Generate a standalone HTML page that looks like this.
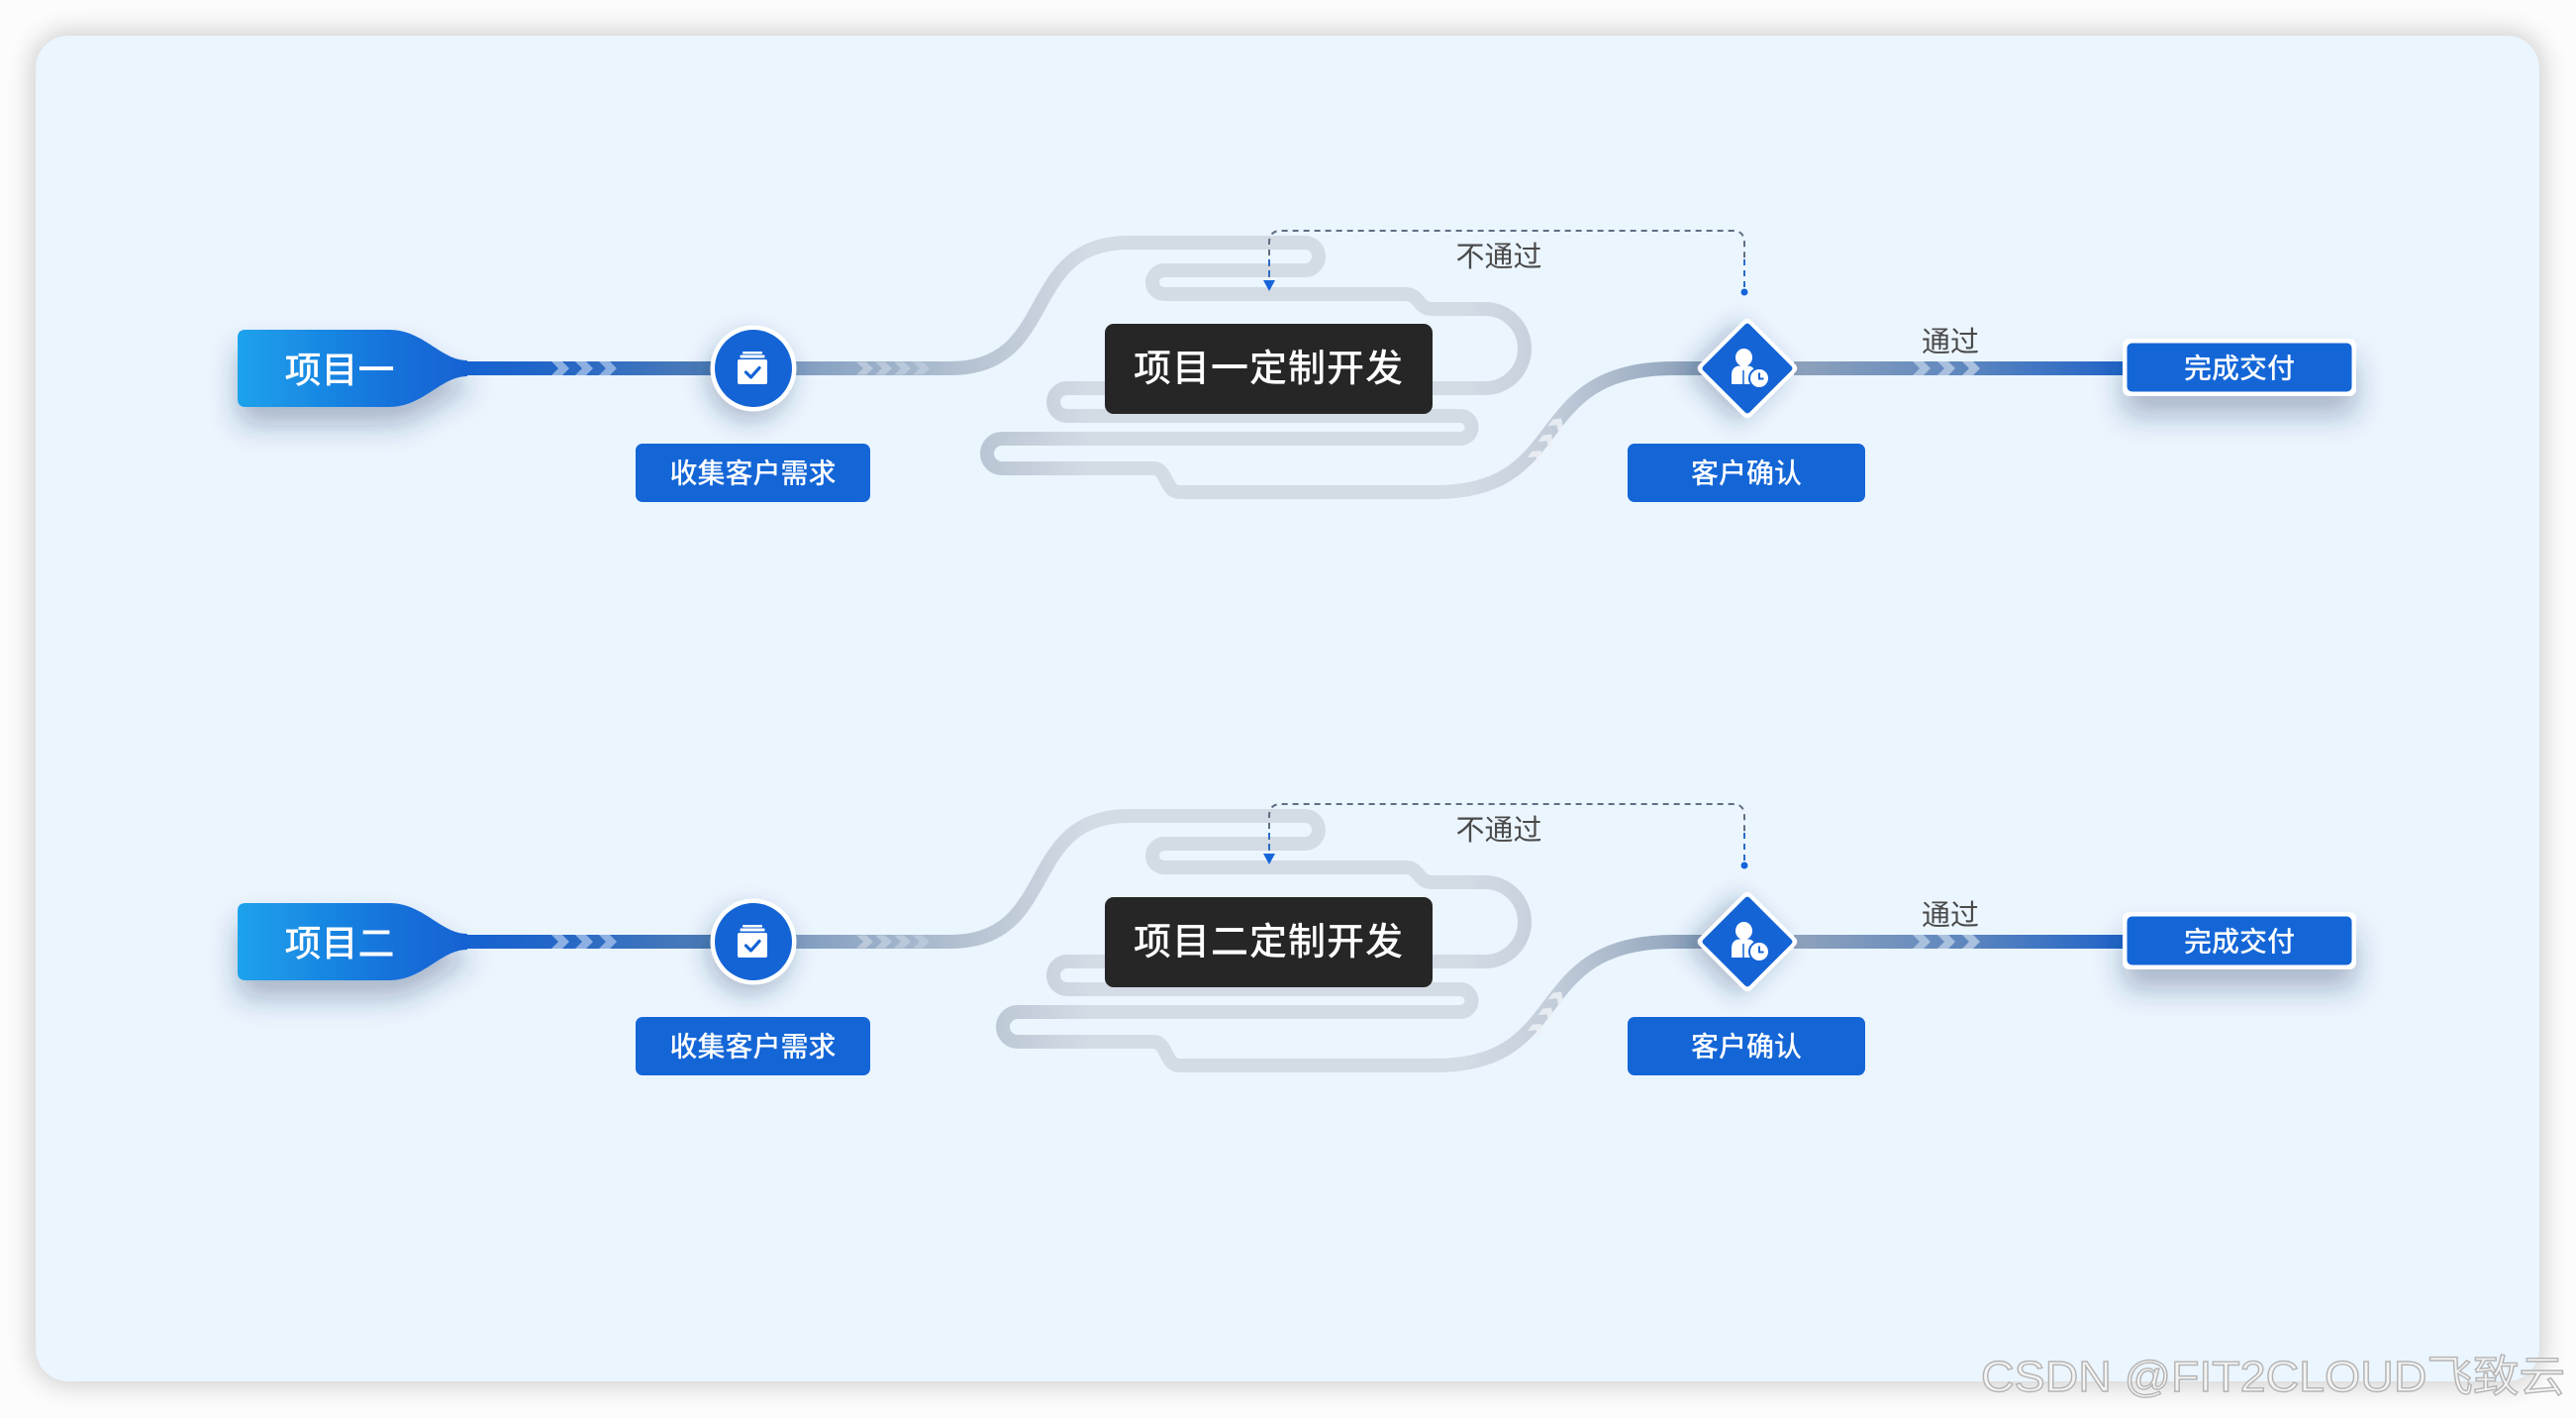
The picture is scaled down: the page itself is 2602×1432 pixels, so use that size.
<!DOCTYPE html>
<html>
<head>
<meta charset="utf-8">
<style>
  html,body{margin:0;padding:0;background:#fcfcfc;}
  body{width:2602px;height:1432px;position:relative;overflow:hidden;}
  .card{position:absolute;left:36px;top:36px;width:2529px;height:1359px;border-radius:33px;background:#ebf5fe;box-shadow:0 0 24px 6px rgba(0,0,0,0.16);}
  svg{position:absolute;left:0;top:0;}
  text{font-family:"Liberation Sans","Noto Sans CJK SC",sans-serif;}
</style>
</head>
<body>
<div class="card"></div>
<svg width="2602" height="1432" viewBox="0 0 2602 1432" xmlns="http://www.w3.org/2000/svg">
  <defs>
    <linearGradient id="gTag" x1="240" y1="0" x2="470" y2="0" gradientUnits="userSpaceOnUse">
      <stop offset="0" stop-color="#1ea2ec"/>
      <stop offset="0.7" stop-color="#1470da"/>
      <stop offset="1" stop-color="#1463d2"/>
    </linearGradient>
    <linearGradient id="g1" x1="465" y1="0" x2="722" y2="0" gradientUnits="userSpaceOnUse">
      <stop offset="0" stop-color="#1462d2"/>
      <stop offset="0.4" stop-color="#2567c6"/>
      <stop offset="1" stop-color="#4f7db6"/>
    </linearGradient>
    <linearGradient id="gp" x1="800" y1="0" x2="1720" y2="0" gradientUnits="userSpaceOnUse">
      <stop offset="0" stop-color="#7f9cc0"/>
      <stop offset="0.2065" stop-color="#b9c5d3"/>
      <stop offset="0.326" stop-color="#d3dbe5"/>
      <stop offset="0.739" stop-color="#d3dbe5"/>
      <stop offset="0.826" stop-color="#c5cfdb"/>
      <stop offset="1" stop-color="#8a9fb9"/>
    </linearGradient>
    <linearGradient id="g3" x1="1815" y1="0" x2="2146" y2="0" gradientUnits="userSpaceOnUse">
      <stop offset="0" stop-color="#8ea2bc"/>
      <stop offset="0.5" stop-color="#5f87be"/>
      <stop offset="1" stop-color="#1f63c8"/>
    </linearGradient>
    <filter id="sh" x="-50%" y="-50%" width="200%" height="250%">
      <feDropShadow dx="0" dy="18" stdDeviation="14" flood-color="#1e3660" flood-opacity="0.33"/>
    </filter>
    <filter id="sh2" x="-60%" y="-60%" width="220%" height="220%">
      <feDropShadow dx="-4" dy="10" stdDeviation="12" flood-color="#1e3660" flood-opacity="0.30"/>
    </filter>
    <filter id="sh3" x="-40%" y="-60%" width="180%" height="260%">
      <feDropShadow dx="0" dy="20" stdDeviation="14" flood-color="#1e3660" flood-opacity="0.32"/>
    </filter>
  </defs>

  <!-- ================= ROW 1 ================= -->
  <g>
    <path d="M248 333 L393 333 C428 333 445 364 472 364 L472 380 C445 380 428 411 393 411 L248 411 Q240 411 240 403 L240 341 Q240 333 248 333 Z" fill="url(#gTag)" filter="url(#sh)"/>
    <text x="343" y="374" fill="#fff" font-size="37" font-weight="500" text-anchor="middle" dominant-baseline="central">项目一</text>
    <rect x="466" y="365" width="258" height="14" fill="url(#g1)"/>
    <g fill="#8db0e3">
      <polygon points="557,365 568,365 575,372 568,379 557,379 564,372"/>
      <polygon points="581,365 592,365 599,372 592,379 581,379 588,372"/>
      <polygon points="605,365 616,365 623,372 616,379 605,379 612,372"/>
    </g>
    <path d="M800 372 L960 372 C1070 372 1030 245 1140 245 L1318 245 A14 14 0 0 1 1318 273 L1176 273 A12 12 0 0 0 1176 297 L1420 297 C1434 297 1432 312 1446 312 L1500 312 A40 40 0 0 1 1500 392 L1078 392 A14 14 0 0 0 1078 420 L1475 420 A11.5 11.5 0 0 1 1475 443 L1012 443 A15 15 0 0 0 1012 473 L1165 473 C1179 473 1177 497 1191 497 L1450 497 C1590 497 1540 372 1690 372 L1720 372" fill="none" stroke="url(#gp)" stroke-width="14" stroke-linejoin="round" stroke-linecap="round"/>
    <g fill="#b9c8da">
      <polygon points="865,365.5 875,365.5 882,372 875,378.5 865,378.5 872,372"/>
      <polygon points="884,365.5 894,365.5 901,372 894,378.5 884,378.5 891,372"/>
      <polygon points="903,365.5 913,365.5 920,372 913,378.5 903,378.5 910,372"/>
      <polygon points="922,365.5 932,365.5 939,372 932,378.5 922,378.5 929,372"/>
    </g>
    <g fill="#eef2f7" opacity="0.85">
      <polygon points="0,-6.5 8,-6.5 14,0 8,6.5 0,6.5 6,0" transform="translate(1548,466) rotate(-52)"/>
      <polygon points="0,-6.5 8,-6.5 14,0 8,6.5 0,6.5 6,0" transform="translate(1559,450) rotate(-55)"/>
      <polygon points="0,-6.5 8,-6.5 14,0 8,6.5 0,6.5 6,0" transform="translate(1569,434) rotate(-55)"/>
    </g>
    <g filter="url(#sh2)">
      <circle cx="761" cy="372" r="43.5" fill="#fff"/>
    </g>
    <circle cx="761" cy="372" r="39" fill="#1464d6"/>
    <rect x="750" y="355" width="20" height="2.5" rx="1" fill="#fff"/>
    <rect x="747.5" y="358.5" width="25" height="3" rx="1" fill="#fff"/>
    <rect x="745" y="363" width="30" height="25" rx="2" fill="#fff"/>
    <polyline points="753.5,376 758.5,381 767,371.5" fill="none" stroke="#1464d6" stroke-width="3.2" stroke-linecap="round" stroke-linejoin="round"/>
    <rect x="642" y="448" width="237" height="59" rx="7" fill="#1466d7"/>
    <text x="760.5" y="478" fill="#fff" font-size="28" font-weight="500" text-anchor="middle" dominant-baseline="central">收集客户需求</text>
    <rect x="1116" y="327" width="331" height="91" rx="9" fill="#262626"/>
    <text x="1281.5" y="373" fill="#fff" font-size="38" font-weight="500" text-anchor="middle" dominant-baseline="central" letter-spacing="1">项目一定制开发</text>
    <path d="M1282 280 L1282 245 Q1282 233 1294 233 L1750 233 Q1762 233 1762 245 L1762 262" fill="none" stroke="#5f6e82" stroke-width="2" stroke-dasharray="6 5"/>
    <path d="M1282 262 L1282 284" fill="none" stroke="#2a6bc9" stroke-width="2" stroke-dasharray="6 5"/>
    <path d="M1762 262 L1762 292" fill="none" stroke="#2a6bc9" stroke-width="2" stroke-dasharray="6 5"/>
    <polygon points="1276,283 1288,283 1282,294" fill="#1565d8"/>
    <circle cx="1762" cy="295" r="3.5" fill="#1565d8"/>
    <text x="1514" y="260" fill="#4a4a4a" font-size="29" text-anchor="middle" dominant-baseline="central">不通过</text>
    <rect x="1812" y="365" width="336" height="14" fill="url(#g3)"/>
    <g fill="#a9c0de">
      <polygon points="1932,365 1943,365 1950,372 1943,379 1932,379 1939,372"/>
      <polygon points="1957,365 1968,365 1975,372 1968,379 1957,379 1964,372"/>
      <polygon points="1982,365 1993,365 2000,372 1993,379 1982,379 1989,372"/>
    </g>
    <text x="1970" y="346" fill="#4a4a4a" font-size="29" text-anchor="middle" dominant-baseline="central">通过</text>
    <g transform="translate(1765,372) rotate(45)">
      <rect x="-37" y="-37" width="74" height="74" rx="5" fill="#fff" filter="url(#sh2)"/>
      <rect x="-33" y="-33" width="66" height="66" rx="3" fill="#1464d6"/>
    </g>
    <ellipse cx="1761.5" cy="361" rx="8.5" ry="9" fill="#fff"/>
    <path d="M1749 388 L1749 379 Q1749 370 1757 369.5 L1766 369.5 Q1773 370 1773 379 L1773 388 Z" fill="#fff"/>
    <line x1="1761" y1="374" x2="1761" y2="388" stroke="#1464d6" stroke-width="1.5"/>
    <circle cx="1777" cy="382" r="10" fill="#fff" stroke="#1464d6" stroke-width="2"/>
    <polyline points="1777,376.5 1777,382.5 1781.5,382.5" fill="none" stroke="#1464d6" stroke-width="2"/>
    <rect x="1644" y="448" width="240" height="59" rx="7" fill="#1466d7"/>
    <text x="1764" y="478" fill="#fff" font-size="28" font-weight="500" text-anchor="middle" dominant-baseline="central">客户确认</text>
    <rect x="2144" y="342" width="236" height="58" rx="7" fill="#fff" filter="url(#sh3)"/>
    <rect x="2148.5" y="346.5" width="227" height="49" rx="5" fill="#1466d7"/>
    <text x="2262" y="372" fill="#fff" font-size="28" font-weight="500" text-anchor="middle" dominant-baseline="central">完成交付</text>
  </g>

  <!-- ================= ROW 2 ================= -->
  <g transform="translate(0,579)">
    <path d="M248 333 L393 333 C428 333 445 364 472 364 L472 380 C445 380 428 411 393 411 L248 411 Q240 411 240 403 L240 341 Q240 333 248 333 Z" fill="url(#gTag)" filter="url(#sh)"/>
    <text x="343" y="374" fill="#fff" font-size="37" font-weight="500" text-anchor="middle" dominant-baseline="central">项目二</text>
    <rect x="466" y="365" width="258" height="14" fill="url(#g1)"/>
    <g fill="#8db0e3">
      <polygon points="557,365 568,365 575,372 568,379 557,379 564,372"/>
      <polygon points="581,365 592,365 599,372 592,379 581,379 588,372"/>
      <polygon points="605,365 616,365 623,372 616,379 605,379 612,372"/>
    </g>
    <path d="M800 372 L960 372 C1070 372 1030 245 1140 245 L1318 245 A14 14 0 0 1 1318 273 L1176 273 A12 12 0 0 0 1176 297 L1420 297 C1434 297 1432 312 1446 312 L1500 312 A40 40 0 0 1 1500 392 L1078 392 A14 14 0 0 0 1078 420 L1475 420 A11.5 11.5 0 0 1 1475 443 L1028 443 A15 15 0 0 0 1028 473 L1165 473 C1179 473 1177 497 1191 497 L1450 497 C1590 497 1540 372 1690 372 L1720 372" fill="none" stroke="url(#gp)" stroke-width="14" stroke-linejoin="round" stroke-linecap="round"/>
    <g fill="#b9c8da">
      <polygon points="865,365.5 875,365.5 882,372 875,378.5 865,378.5 872,372"/>
      <polygon points="884,365.5 894,365.5 901,372 894,378.5 884,378.5 891,372"/>
      <polygon points="903,365.5 913,365.5 920,372 913,378.5 903,378.5 910,372"/>
      <polygon points="922,365.5 932,365.5 939,372 932,378.5 922,378.5 929,372"/>
    </g>
    <g fill="#eef2f7" opacity="0.85">
      <polygon points="0,-6.5 8,-6.5 14,0 8,6.5 0,6.5 6,0" transform="translate(1548,466) rotate(-52)"/>
      <polygon points="0,-6.5 8,-6.5 14,0 8,6.5 0,6.5 6,0" transform="translate(1559,450) rotate(-55)"/>
      <polygon points="0,-6.5 8,-6.5 14,0 8,6.5 0,6.5 6,0" transform="translate(1569,434) rotate(-55)"/>
    </g>
    <g filter="url(#sh2)">
      <circle cx="761" cy="372" r="43.5" fill="#fff"/>
    </g>
    <circle cx="761" cy="372" r="39" fill="#1464d6"/>
    <rect x="750" y="355" width="20" height="2.5" rx="1" fill="#fff"/>
    <rect x="747.5" y="358.5" width="25" height="3" rx="1" fill="#fff"/>
    <rect x="745" y="363" width="30" height="25" rx="2" fill="#fff"/>
    <polyline points="753.5,376 758.5,381 767,371.5" fill="none" stroke="#1464d6" stroke-width="3.2" stroke-linecap="round" stroke-linejoin="round"/>
    <rect x="642" y="448" width="237" height="59" rx="7" fill="#1466d7"/>
    <text x="760.5" y="478" fill="#fff" font-size="28" font-weight="500" text-anchor="middle" dominant-baseline="central">收集客户需求</text>
    <rect x="1116" y="327" width="331" height="91" rx="9" fill="#262626"/>
    <text x="1281.5" y="373" fill="#fff" font-size="38" font-weight="500" text-anchor="middle" dominant-baseline="central" letter-spacing="1">项目二定制开发</text>
    <path d="M1282 280 L1282 245 Q1282 233 1294 233 L1750 233 Q1762 233 1762 245 L1762 262" fill="none" stroke="#5f6e82" stroke-width="2" stroke-dasharray="6 5"/>
    <path d="M1282 262 L1282 284" fill="none" stroke="#2a6bc9" stroke-width="2" stroke-dasharray="6 5"/>
    <path d="M1762 262 L1762 292" fill="none" stroke="#2a6bc9" stroke-width="2" stroke-dasharray="6 5"/>
    <polygon points="1276,283 1288,283 1282,294" fill="#1565d8"/>
    <circle cx="1762" cy="295" r="3.5" fill="#1565d8"/>
    <text x="1514" y="260" fill="#4a4a4a" font-size="29" text-anchor="middle" dominant-baseline="central">不通过</text>
    <rect x="1812" y="365" width="336" height="14" fill="url(#g3)"/>
    <g fill="#a9c0de">
      <polygon points="1932,365 1943,365 1950,372 1943,379 1932,379 1939,372"/>
      <polygon points="1957,365 1968,365 1975,372 1968,379 1957,379 1964,372"/>
      <polygon points="1982,365 1993,365 2000,372 1993,379 1982,379 1989,372"/>
    </g>
    <text x="1970" y="346" fill="#4a4a4a" font-size="29" text-anchor="middle" dominant-baseline="central">通过</text>
    <g transform="translate(1765,372) rotate(45)">
      <rect x="-37" y="-37" width="74" height="74" rx="5" fill="#fff" filter="url(#sh2)"/>
      <rect x="-33" y="-33" width="66" height="66" rx="3" fill="#1464d6"/>
    </g>
    <ellipse cx="1761.5" cy="361" rx="8.5" ry="9" fill="#fff"/>
    <path d="M1749 388 L1749 379 Q1749 370 1757 369.5 L1766 369.5 Q1773 370 1773 379 L1773 388 Z" fill="#fff"/>
    <line x1="1761" y1="374" x2="1761" y2="388" stroke="#1464d6" stroke-width="1.5"/>
    <circle cx="1777" cy="382" r="10" fill="#fff" stroke="#1464d6" stroke-width="2"/>
    <polyline points="1777,376.5 1777,382.5 1781.5,382.5" fill="none" stroke="#1464d6" stroke-width="2"/>
    <rect x="1644" y="448" width="240" height="59" rx="7" fill="#1466d7"/>
    <text x="1764" y="478" fill="#fff" font-size="28" font-weight="500" text-anchor="middle" dominant-baseline="central">客户确认</text>
    <rect x="2144" y="342" width="236" height="58" rx="7" fill="#fff" filter="url(#sh3)"/>
    <rect x="2148.5" y="346.5" width="227" height="49" rx="5" fill="#1466d7"/>
    <text x="2262" y="372" fill="#fff" font-size="28" font-weight="500" text-anchor="middle" dominant-baseline="central">完成交付</text>
  </g>

  <!-- watermark -->
  <text x="2001" y="1405" font-size="44" fill="#f4f4f4" stroke="#b4b4b4" stroke-width="1.4" textLength="590" lengthAdjust="spacingAndGlyphs">CSDN @FIT2CLOUD飞致云</text>
</svg>
</body>
</html>
